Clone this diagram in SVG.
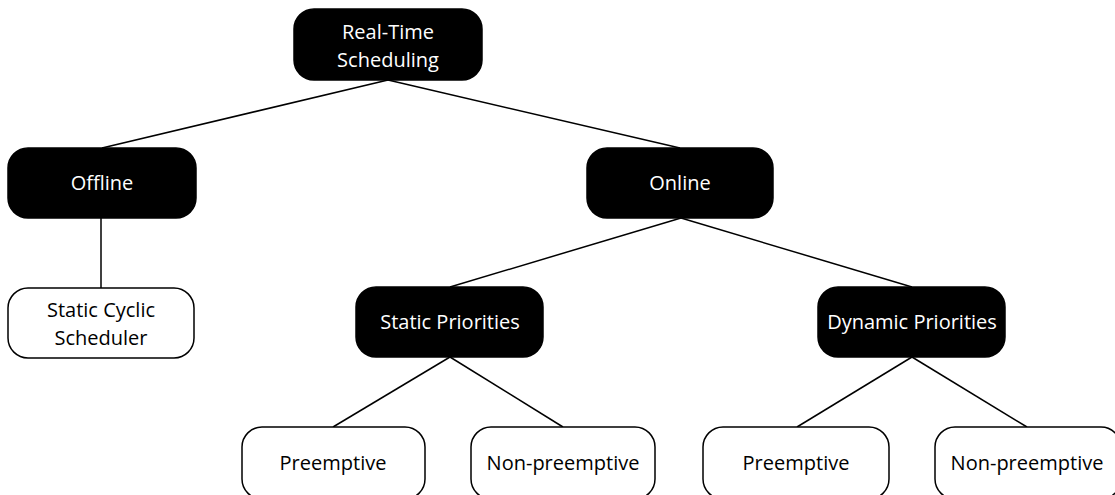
<svg xmlns="http://www.w3.org/2000/svg" width="1115" height="495" viewBox="0 0 1115 495">
  <style>
    .dark rect { fill: #000; stroke: #000; stroke-width: 1.5; }
    .light rect { fill: #fff; stroke: #000; stroke-width: 1.5; }
    text { font-family: "Open Sans", "Liberation Sans", sans-serif; font-size: 20px; text-anchor: middle; }
    .dark text { fill: #fff; }
    .light text { fill: #000; }
    .edges line { stroke: #000; stroke-width: 1.5; }
  </style>
  <rect width="1115" height="495" fill="#fff"/>

  <g class="edges">
    <line x1="388" y1="80" x2="102" y2="148"/>
    <line x1="388" y1="80" x2="680" y2="148"/>
    <line x1="101" y1="218" x2="101" y2="288"/>
    <line x1="681" y1="218" x2="450" y2="287"/>
    <line x1="681" y1="218" x2="912" y2="287"/>
    <line x1="450" y1="357" x2="333" y2="427"/>
    <line x1="450" y1="357" x2="563" y2="427"/>
    <line x1="912" y1="357" x2="797" y2="427"/>
    <line x1="912" y1="357" x2="1027" y2="427"/>
  </g>

  <g id="root" class="dark">
    <rect x="294" y="9" width="188" height="71" rx="20"/>
    <text x="388" y="39">Real-Time</text>
    <text x="388" y="67">Scheduling</text>
  </g>
  <g id="offline" class="dark">
    <rect x="8" y="148" width="188" height="70" rx="20"/>
    <text x="102" y="190">Offline</text>
  </g>
  <g id="online" class="dark">
    <rect x="587" y="148" width="186" height="70" rx="20"/>
    <text x="680" y="190">Online</text>
  </g>
  <g id="static-cyclic" class="light">
    <rect x="8" y="288" width="186" height="70" rx="20"/>
    <text x="101" y="317">Static Cyclic</text>
    <text x="101" y="345">Scheduler</text>
  </g>
  <g id="static-priorities" class="dark">
    <rect x="356" y="287" width="187" height="70" rx="20"/>
    <text x="450" y="329">Static Priorities</text>
  </g>
  <g id="dynamic-priorities" class="dark">
    <rect x="818" y="287" width="187" height="70" rx="20"/>
    <text x="912" y="329">Dynamic Priorities</text>
  </g>
  <g id="static-preemptive" class="light">
    <rect x="242" y="427" width="183" height="72" rx="20"/>
    <text x="333" y="470">Preemptive</text>
  </g>
  <g id="static-nonpreemptive" class="light">
    <rect x="471" y="427" width="184" height="72" rx="20"/>
    <text x="563" y="470">Non-preemptive</text>
  </g>
  <g id="dynamic-preemptive" class="light">
    <rect x="703" y="427" width="186" height="72" rx="20"/>
    <text x="796" y="470">Preemptive</text>
  </g>
  <g id="dynamic-nonpreemptive" class="light">
    <rect x="935" y="427" width="186" height="72" rx="20"/>
    <text x="1027" y="470">Non-preemptive</text>
  </g>
</svg>
